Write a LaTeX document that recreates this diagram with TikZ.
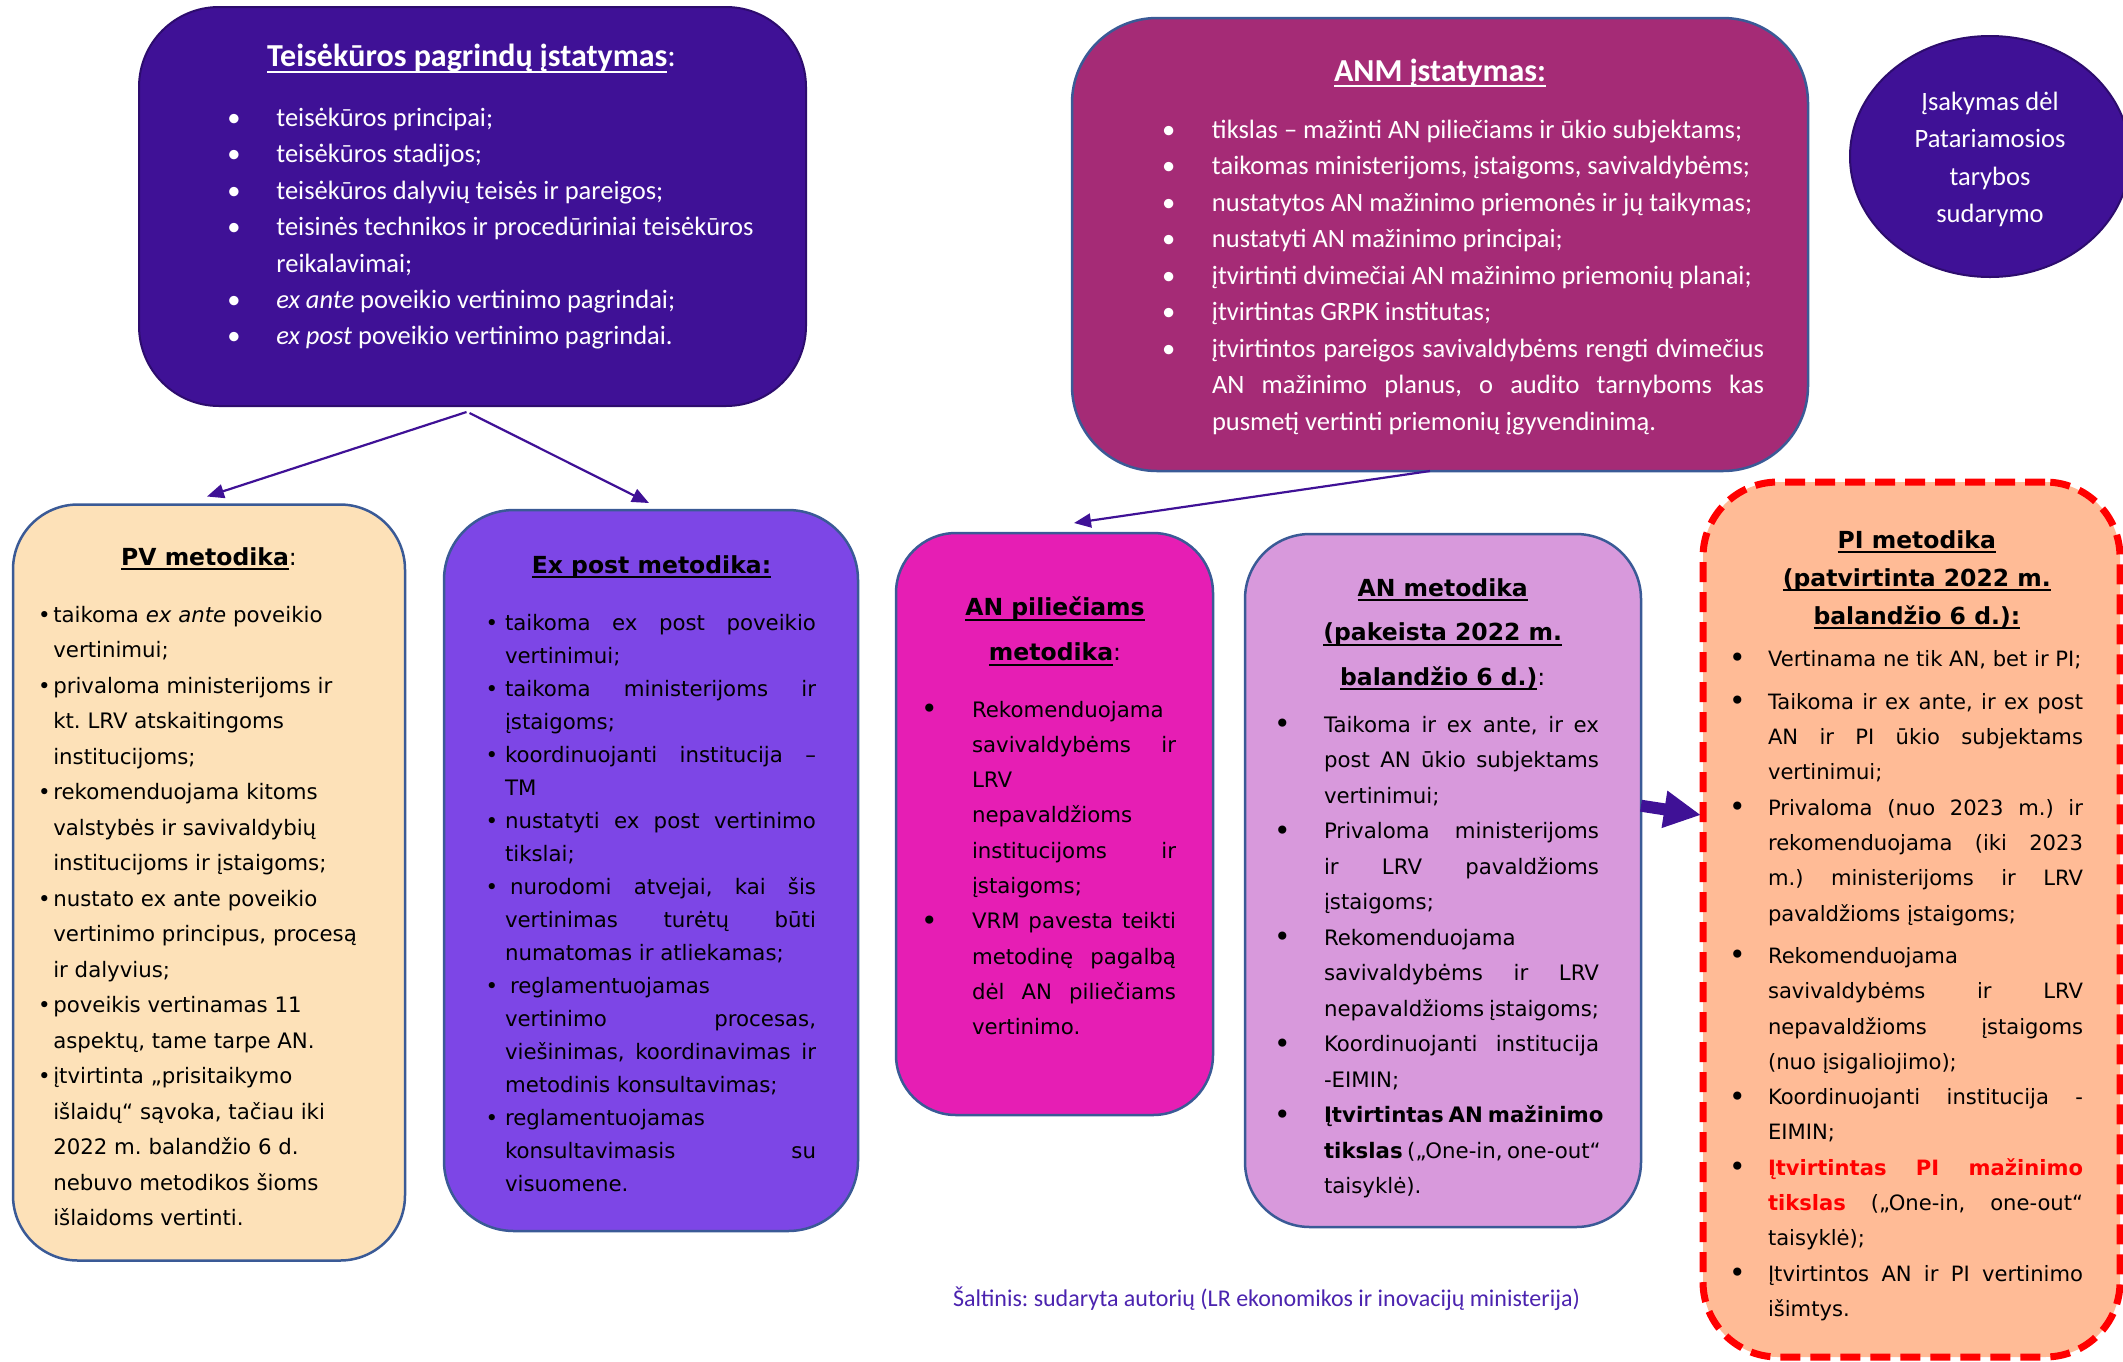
\documentclass[tikz,border=0pt]{standalone}
\usepackage{fontspec}
\setmainfont{Carlito}
\newfontfamily\vfont{DejaVu Sans}
\usetikzlibrary{shapes.geometric,arrows.meta}

\definecolor{deep}{RGB}{63,17,150}
\definecolor{deepline}{RGB}{45,12,110}
\definecolor{plum}{RGB}{165,43,118}
\definecolor{edge}{RGB}{58,90,150}
\definecolor{peach}{RGB}{253,225,184}
\definecolor{exviolet}{RGB}{125,70,230}
\definecolor{hotpink}{RGB}{230,30,180}
\definecolor{orchidbox}{RGB}{216,153,220}
\definecolor{salmonbox}{RGB}{255,187,150}
\definecolor{srcblue}{RGB}{75,35,175}

% line building blocks: bullet + justified / left aligned lines
\newlength\ti
\newsavebox\ulb
\newcommand\ul[2][5pt]{\sbox\ulb{#2}\rlap{\rule[-#1]{\wd\ulb}{2pt}}\usebox\ulb}
\newcommand\bul{•}
\newcommand\bigbul{\raisebox{-1.5pt}{\fontsize{28}{28}\selectfont •}}
\newcommand\fj[1]{\hbox to\hsize{\hbox to\ti{\bul\hfil}#1}}
\newcommand\fl[1]{\hbox to\hsize{\hbox to\ti{\bul\hfil}#1\hfil}}
\newcommand\cj[1]{\hbox to\hsize{\hskip\ti #1}}
\newcommand\cl[1]{\hbox to\hsize{\hskip\ti #1\hfil}}
\newcommand\ctl[1]{\hbox to\hsize{\hfil#1\hfil}}

\tikzset{
  panel/.style={draw=edge, line width=2.5pt, inner sep=0pt, outer sep=0pt},
  txt/.style={inner sep=0pt, outer sep=0pt, anchor=base west},
  ttl/.style={inner sep=0pt, outer sep=0pt, anchor=base},
  link/.style={draw=deep, line width=2.2pt, -{Triangle[length=17pt,width=14pt]}},
  biglink/.style={draw=deep, line width=12pt, -{Triangle[length=37pt,width=35pt]}},
}

\begin{document}
\frenchspacing
\begin{tikzpicture}[x=1pt,y=-1pt]
\useasboundingbox (0,0) rectangle (2123,1361);

% ---------- panels ----------
\node[panel, draw=deepline, line width=2pt, fill=deep, rounded corners=80pt,
      minimum width=667pt, minimum height=399pt] (tl) at (472.5,206.5) {};
\node[panel, fill=plum, rounded corners=85pt,
      minimum width=736pt, minimum height=453pt] (anm) at (1440,244.5) {};
\node[panel, draw=deepline, line width=2pt, fill=deep, ellipse,
      minimum width=280pt, minimum height=241pt] (ell) at (1990,156.5) {};
\node[panel, fill=peach, rounded corners=65pt,
      minimum width=392pt, minimum height=756pt] (pv) at (209,882.5) {};
\node[panel, fill=exviolet, rounded corners=70pt,
      minimum width=414pt, minimum height=721pt] (ep) at (651,870.5) {};
\node[panel, fill=hotpink, rounded corners=60pt,
      minimum width=317pt, minimum height=582pt] (ap) at (1054.5,824) {};
\node[panel, fill=orchidbox, rounded corners=65pt,
      minimum width=396pt, minimum height=693pt] (am) at (1443,880.5) {};
\node[panel, draw=red, fill=salmonbox, line width=7pt, dash pattern=on 20pt off 10pt,
      rounded corners=75pt, minimum width=417pt, minimum height=875pt] (pi) at (1911.5,919.5) {};

% ---------- connectors ----------
\draw[link] ([shift={(-6,6)}]tl.south) -- ([shift={(-2,-8)}]pv.north);
\draw[link] ([shift={(-3,7)}]tl.south) -- ([shift={(-2,-7)}]ep.north);
\draw[link] ([xshift=-10pt]anm.south) -- ([shift={(19.5,-10)}]ap.north);
\draw[biglink] ([yshift=74.8pt]am.east) -- ([shift={(-2,0)},yshift=104.5pt]pi.west);

% ---------- Teisėkūros pagrindų įstatymas ----------
\node[ttl, text=white] (tltitle) at (471.5,66.5)
  {\fontsize{32}{36}\selectfont\ul[6pt]{\bfseries Teisėkūros pagrindų įstatymas}:};
\node[txt, text=white] (tlbody) at (227.4,126.5) {\vtop{\hsize=560pt \lineskiplimit=-\maxdimen
  \fontsize{26.5}{36.4}\selectfont \ti=49pt
  \fl{teisėkūros principai;}
  \fl{teisėkūros stadijos;}
  \fl{teisėkūros dalyvių teisės ir pareigos;}
  \fl{teisinės technikos ir procedūriniai teisėkūros}
  \cl{reikalavimai;}
  \fl{\textit{ex ante} poveikio vertinimo pagrindai;}
  \fl{\textit{ex post} poveikio vertinimo pagrindai.}}};

% ---------- ANM įstatymas ----------
\node[ttl, text=white] (anmtitle) at (1440,81)
  {\fontsize{32}{36}\selectfont\bfseries\ul[6pt]{ANM įstatymas:}};
\node[txt, text=white] (anmbody) at (1162,138) {\vtop{\hsize=602pt \lineskiplimit=-\maxdimen
  \fontsize{26.5}{36.5}\selectfont \ti=50pt
  \fl{tikslas – mažinti AN piliečiams ir ūkio subjektams;}
  \fl{taikomas ministerijoms, įstaigoms, savivaldybėms;}
  \fl{nustatytos AN mažinimo priemonės ir jų taikymas;}
  \fl{nustatyti AN mažinimo principai;}
  \fl{įtvirtinti dvimečiai AN mažinimo priemonių planai;}
  \fl{įtvirtintas GRPK institutas;}
  \fj{įtvirtintos pareigos savivaldybėms rengti dvimečius}
  \cj{AN mažinimo planus, o audito tarnyboms kas}
  \cl{pusmetį vertinti priemonių įgyvendinimą.}}};

% ---------- Įsakymas ----------
\node[ttl, text=white] (elltext) at (1990,110) {\vtop{\hsize=260pt \lineskiplimit=-\maxdimen
  \fontsize{26.5}{37.6}\selectfont
  \ctl{Įsakymas dėl}
  \ctl{Patariamosios}
  \ctl{tarybos}
  \ctl{sudarymo}}};

% ---------- PV metodika ----------
\node[ttl] (pvtitle) at (209,565)
  {\vfont\fontsize{23.5}{30}\selectfont\ul{\bfseries PV metodika}:};
\node[txt] (pvbody) at (38,622) {\vtop{\hsize=360pt \lineskiplimit=-\maxdimen
  \vfont\fontsize{21.3}{35.5}\selectfont \ti=15.3pt
  \fl{taikoma \textit{ex ante} poveikio}
  \cl{vertinimui;}
  \fl{privaloma ministerijoms ir}
  \cl{kt. LRV atskaitingoms}
  \cl{institucijoms;}
  \fl{rekomenduojama kitoms}
  \cl{valstybės ir savivaldybių}
  \cl{institucijoms ir įstaigoms;}
  \fl{nustato ex ante poveikio}
  \cl{vertinimo principus, procesą}
  \cl{ir dalyvius;}
  \fl{poveikis vertinamas 11}
  \cl{aspektų, tame tarpe AN.}
  \fl{įtvirtinta „prisitaikymo}
  \cl{išlaidų“ sąvoka, tačiau iki}
  \cl{2022 m. balandžio 6 d.}
  \cl{nebuvo metodikos šioms}
  \cl{išlaidoms vertinti.}}};

% ---------- Ex post metodika ----------
\node[ttl] (eptitle) at (651.5,573)
  {\vfont\fontsize{23.5}{30}\selectfont\bfseries\ul{Ex post metodika:}};
\node[txt] (epbody) at (485.7,630) {\vtop{\hsize=330.3pt \lineskiplimit=-\maxdimen
  \vfont\fontsize{21.3}{33}\selectfont \ti=19.3pt
  \fj{taikoma ex post poveikio}
  \cl{vertinimui;}
  \fj{taikoma ministerijoms ir}
  \cl{įstaigoms;}
  \fj{koordinuojanti institucija –}
  \cl{TM}
  \fj{nustatyti ex post vertinimo}
  \cl{tikslai;}
  \fj{\hskip5pt nurodomi atvejai, kai šis}
  \cj{vertinimas turėtų būti}
  \cl{numatomas ir atliekamas;}
  \fl{\hskip5pt reglamentuojamas}
  \cj{vertinimo procesas,}
  \cj{viešinimas, koordinavimas ir}
  \cl{metodinis konsultavimas;}
  \fl{reglamentuojamas}
  \cj{konsultavimasis su}
  \cl{visuomene.}}};

% ---------- AN piliečiams metodika ----------
\node[ttl] (aptitle) at (1055,615.5) {\vtop{\hsize=300pt \lineskiplimit=-\maxdimen
  \vfont\fontsize{23.5}{45}\selectfont
  \ctl{\bfseries\ul{AN piliečiams}}
  \ctl{\ul{\bfseries metodika}:}}};
\node[txt] (apbody) at (921,717) {\vtop{\hsize=255pt \lineskiplimit=-\maxdimen
  \vfont\fontsize{21.3}{35.3}\selectfont \ti=51pt \renewcommand\bul{\bigbul}
  \fl{Rekomenduojama}
  \cj{savivaldybėms ir}
  \cl{LRV}
  \cl{nepavaldžioms}
  \cj{institucijoms ir}
  \cl{įstaigoms;}
  \fj{VRM pavesta teikti}
  \cj{metodinę pagalbą}
  \cj{dėl AN piliečiams}
  \cl{vertinimo.}}};

% ---------- AN metodika ----------
\node[ttl] (amtitle) at (1442.7,596) {\vtop{\hsize=380pt \lineskiplimit=-\maxdimen
  \vfont\fontsize{23.5}{44.6}\selectfont
  \ctl{\bfseries\ul{AN metodika}}
  \ctl{\bfseries\ul{(pakeista 2022 m.}}
  \ctl{\ul{\bfseries balandžio 6 d.)}:}}};
\node[txt] (ambody) at (1274,732) {\vtop{\hsize=325pt \lineskiplimit=-\maxdimen
  \vfont\fontsize{21.3}{35.5}\selectfont \ti=50pt \renewcommand\bul{\bigbul}
  \fj{Taikoma ir ex ante, ir ex}
  \cj{post AN ūkio subjektams}
  \cl{vertinimui;}
  \fj{Privaloma ministerijoms}
  \cj{ir LRV pavaldžioms}
  \cl{įstaigoms;}
  \fl{Rekomenduojama}
  \cj{savivaldybėms ir LRV}
  \cl{nepavaldžioms įstaigoms;}
  \fj{Koordinuojanti institucija}
  \cl{-EIMIN;}
  \fj{\bfseries Įtvirtintas AN mažinimo}
  \cj{\textbf{tikslas} („One-in, one-out“}
  \cl{taisyklė).}}};

% ---------- PI metodika ----------
\node[ttl] (pititle) at (1916.8,548) {\vtop{\hsize=400pt \lineskiplimit=-\maxdimen
  \vfont\fontsize{23.5}{38.2}\selectfont\bfseries
  \ctl{\ul{PI metodika}}
  \ctl{\ul{(patvirtinta 2022 m.}}
  \ctl{\ul{balandžio 6 d.):}}}};
\node[txt] (pibody) at (1729,666) {\vtop{\hsize=354pt \lineskiplimit=-\maxdimen
  \vfont\fontsize{21.1}{35.3}\selectfont \ti=39pt \renewcommand\bul{\bigbul}
  \fl{Vertinama ne tik AN, bet ir PI;}
  \vskip8pt
  \fj{Taikoma ir ex ante, ir ex post}
  \cj{AN ir PI ūkio subjektams}
  \cl{vertinimui;}
  \fj{Privaloma (nuo 2023 m.) ir}
  \cj{rekomenduojama (iki 2023}
  \cj{m.) ministerijoms ir LRV}
  \cl{pavaldžioms įstaigoms;}
  \vskip7pt
  \fl{Rekomenduojama}
  \cj{savivaldybėms ir LRV}
  \cj{nepavaldžioms įstaigoms}
  \cl{(nuo įsigaliojimo);}
  \fj{Koordinuojanti institucija -}
  \cl{EIMIN;}
  \fj{\color{red}\bfseries Įtvirtintas PI mažinimo}
  \cj{\textcolor{red}{\bfseries tikslas} („One-in, one-out“}
  \cl{taisyklė);}
  \fj{Įtvirtintos AN ir PI vertinimo}
  \cl{išimtys.}}};

% ---------- source line ----------
\node[ttl, text=srcblue] (src) at (1266.5,1306)
  {\fontsize{24}{28}\selectfont Šaltinis: sudaryta autorių (LR ekonomikos ir inovacijų ministerija)};
\end{tikzpicture}
\end{document}
